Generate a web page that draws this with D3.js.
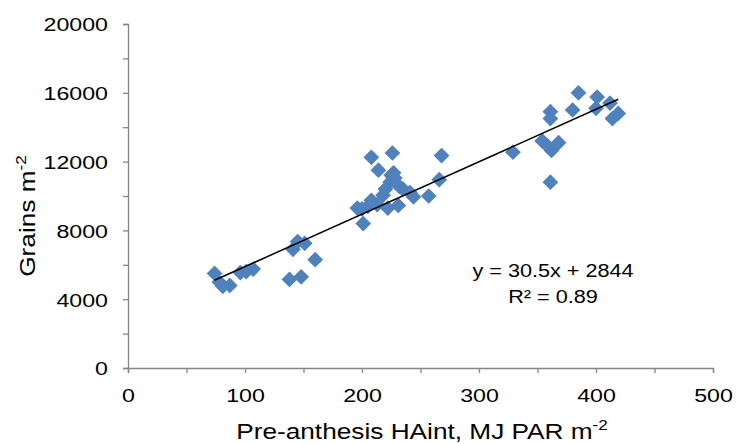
<!DOCTYPE html>
<html>
<head>
<meta charset="utf-8">
<script src="https://cdn.jsdelivr.net/npm/d3@7/dist/d3.min.js"></script>
<style>
  html, body { margin: 0; padding: 0; background: #fff; }
  svg { display: block; font-family: "Liberation Sans", Arial, sans-serif; }
</style>
</head>
<body>
<svg id="chart" width="736" height="444"></svg>
<script>
// Pre-anthesis intercepted radiation (MJ PAR m-2)
const haint = [
  74, 78, 81, 87, 96, 101, 107, 138, 148, 141, 145, 151, 160,
  196, 200, 201, 205, 208, 213, 218, 222, 231, 208, 226, 214, 227, 224, 228,
  232, 241, 244, 257, 266, 268, 220, 235, 225,
  329, 385, 361, 361, 380, 401, 400, 412, 414, 419, 354, 368, 362, 358, 361
];
// Grain number (grains m-2)
const grains = [
  5500, 5000, 4750, 4800, 5550, 5600, 5750, 5150, 5300, 6900, 7350, 7250, 6300,
  9300, 9250, 8400, 9400, 9750, 9500, 10050, 9300, 9450, 12250, 12500, 11500, 11350, 10800, 11050,
  10550, 10200, 9950, 10000, 10950, 12350, 10400, 10400, 11200,
  12550, 16000, 14900, 14500, 15000, 15750, 15100, 15400, 14500, 14800, 13200, 13100, 12650, 12950, 10800
];
// Linear trend: y = slope * x + intercept
const slope = 30.5;
const intercept = 2844;
const rSquared = "0.89";

const xTicks = d3.range(0, 501, 50);
const yTicks = d3.range(0, 20001, 2000);

const svg = d3.select("#chart");
const x = d3.scaleLinear().domain([0, 500]).range([128, 713]);
const y = d3.scaleLinear().domain([0, 20000]).range([368, 24]);
const axisColor = "#868686";
const stretch = 1.22;   // wide text rendering

// x axis
const gx = svg.append("g").attr("transform", `translate(0,${y(0)})`)
  .call(d3.axisBottom(x).tickValues(xTicks).tickSize(5).tickPadding(16)
    .tickFormat(d => d % 100 === 0 ? d : ""));
// y axis
const gy = svg.append("g").attr("transform", `translate(${x(0)},0)`)
  .call(d3.axisLeft(y).tickValues(yTicks).tickSize(5).tickPadding(15)
    .tickFormat(d => d % 4000 === 0 ? d : ""));

[gx, gy].forEach(g => {
  g.select(".domain").attr("stroke", axisColor).attr("stroke-width", 1.3);
  g.selectAll(".tick line").attr("stroke", axisColor).attr("stroke-width", 1.3);
  g.selectAll(".tick text").attr("fill", "#000").style("font-size", "19px")
    .style("font-family", "Liberation Sans, Arial, sans-serif");
});
gx.selectAll(".tick text").attr("transform", `scale(${stretch},1)`);
gy.selectAll(".tick text").attr("dy", "0.36em").attr("x", 0)
  .attr("transform", `translate(-20,0) scale(${stretch},1)`);

// data points (Excel-style diamonds)
const diamond = d3.symbol(d3.symbolSquare).size(124)();
svg.append("g").selectAll("path")
  .data(haint.map((v, i) => [v, grains[i]]))
  .join("path")
  .attr("d", diamond)
  .attr("fill", "#4F81BD")
  .attr("transform", d => `translate(${x(d[0])},${y(d[1])}) rotate(45)`);

// trend line over the range of the data
const xMin = d3.min(haint), xMax = d3.max(haint);
svg.append("line")
  .attr("x1", x(xMin)).attr("y1", y(slope * xMin + intercept))
  .attr("x2", x(xMax)).attr("y2", y(slope * xMax + intercept))
  .attr("stroke", "#000").attr("stroke-width", 1.5);

// equation
svg.append("text").attr("transform", `translate(553,277) scale(1.17,1)`)
  .attr("text-anchor", "middle").style("font-size", "18.5px")
  .text(`y = ${slope}x + ${intercept}`);
svg.append("text").attr("transform", `translate(553,303) scale(1.17,1)`)
  .attr("text-anchor", "middle").style("font-size", "18.5px")
  .text(`R² = ${rSquared}`);

// axis titles
const xt = svg.append("text").attr("transform", `translate(422,439) scale(${stretch},1)`)
  .attr("text-anchor", "middle").style("font-size", "21.5px");
xt.append("tspan").text("Pre-anthesis HAint, MJ PAR m");
xt.append("tspan").attr("dy", -9).style("font-size", "14px").text("-2");

const yt = svg.append("text")
  .attr("transform", `translate(35,216) rotate(-90) scale(${stretch},1)`)
  .attr("text-anchor", "middle").style("font-size", "21.5px");
yt.append("tspan").text("Grains m");
yt.append("tspan").attr("dy", -9).style("font-size", "14px").text("-2");
</script>
</body>
</html>
